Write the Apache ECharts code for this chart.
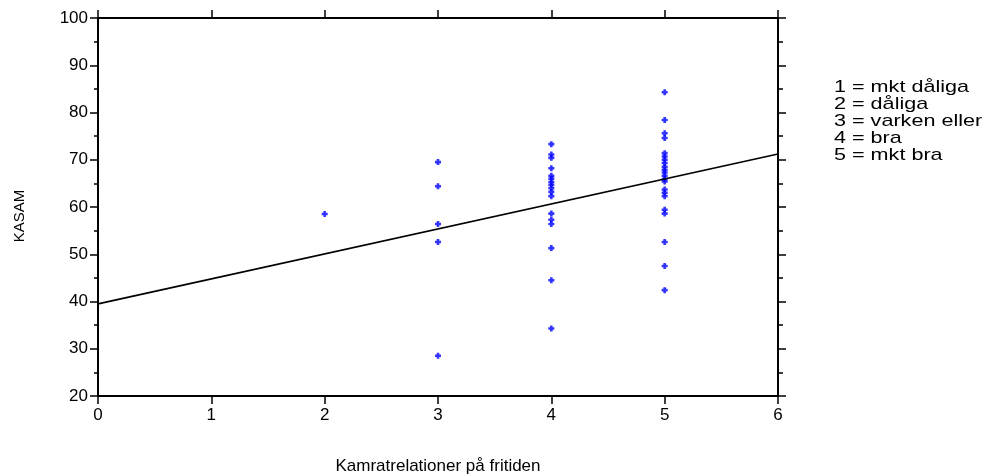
<!DOCTYPE html>
<html>
<head>
<meta charset="utf-8">
<script src="https://cdn.jsdelivr.net/npm/echarts@6/dist/echarts.min.js"></script>
<style>
  html, body { margin: 0; padding: 0; background: #fff; }
  #chart { width: 986px; height: 475px; }
</style>
</head>
<body>
<div id="chart"></div>
<script>
// KASAM scores grouped by rating of friendships in leisure time (1-5)
const ratings = [2, 3, 4, 5];
const kasamAt2 = [58.5];
const kasamAt3 = [69.5, 64.4, 56.4, 52.6, 28.5];
const kasamAt4 = [73.3, 71.1, 70.4, 68.2, 66.6, 66.0, 65.3, 64.7, 64.0, 63.2, 62.3,
                  58.6, 57.3, 56.4, 51.3, 44.5, 34.3];
const kasamAt5 = [84.3, 78.4, 75.6, 74.6, 71.4, 70.7, 70.0, 69.3, 68.5, 67.9, 67.3,
                  66.6, 65.9, 65.4, 63.7, 63.0, 62.3, 59.4, 58.6, 52.6, 47.5, 42.4];

// Least-squares line end points at x = 0 and x = 6
const fitLine = [[0, 39.5], [6, 71.2]];

// Axis ranges and tick labels
const xTicks = [0, 1, 2, 3, 4, 5, 6];
const yTicks = [20, 30, 40, 50, 60, 70, 80, 90, 100];

const legendLines = ['1 = mkt dåliga', '2 = dåliga', '3 = varken eller', '4 = bra', '5 = mkt bra'];

const groups = [kasamAt2, kasamAt3, kasamAt4, kasamAt5];
const points = [];
groups.forEach((vals, i) => vals.forEach(v => points.push([ratings[i], v])));

const FONT = 'Liberation Sans, Arial, sans-serif';
const axisLine = { show: true, onZero: false, lineStyle: { color: '#000', width: 2 } };
const tickStyle = { color: '#000', width: 1.5 };

const chart = echarts.init(document.getElementById('chart'), null, { renderer: 'canvas' });
chart.setOption({
  animation: false,
  backgroundColor: '#fff',
  grid: { left: 98, right: 208, top: 18, bottom: 79, containLabel: false, outerBoundsMode: 'none' },
  xAxis: [
    {
      type: 'value', position: 'bottom',
      min: xTicks[0], max: xTicks[xTicks.length - 1], interval: 1,
      axisLine: axisLine,
      axisTick: { show: true, inside: false, length: 8, lineStyle: tickStyle },
      axisLabel: { color: '#000', fontFamily: FONT, fontSize: 17, margin: 11 },
      splitLine: { show: false },
      name: 'Kamratrelationer på fritiden', nameLocation: 'middle', nameGap: 62,
      nameTextStyle: { color: '#000', fontFamily: FONT, fontSize: 17 }
    },
    {
      type: 'value', position: 'top',
      min: xTicks[0], max: xTicks[xTicks.length - 1], interval: 1,
      axisLine: axisLine,
      axisTick: { show: true, inside: false, length: 8, lineStyle: tickStyle },
      axisLabel: { show: false },
      splitLine: { show: false }
    }
  ],
  yAxis: [
    {
      type: 'value', position: 'left',
      min: yTicks[0], max: yTicks[yTicks.length - 1], interval: 10,
      axisLine: axisLine,
      axisTick: { show: true, inside: false, length: 8, lineStyle: tickStyle },
      minorTick: { show: true, splitNumber: 2, length: 4, lineStyle: tickStyle },
      axisLabel: { color: '#000', fontFamily: FONT, fontSize: 17, margin: 10 },
      splitLine: { show: false }
    },
    {
      type: 'value', position: 'right',
      min: yTicks[0], max: yTicks[yTicks.length - 1], interval: 10,
      axisLine: axisLine,
      axisTick: { show: true, inside: false, length: 8, lineStyle: tickStyle },
      minorTick: { show: true, splitNumber: 2, length: 5, lineStyle: tickStyle },
      axisLabel: { show: false },
      splitLine: { show: false }
    }
  ],
  graphic: [
    {
      type: 'text', x: 20, y: 216, rotation: Math.PI / 2,
      style: { text: 'KASAM', fill: '#000', font: '15px ' + FONT, align: 'center', verticalAlign: 'middle' }
    }
  ].concat(legendLines.map((t, i) => ({
    type: 'text',
    x: 834, y: 87 + i * 17,
    scaleX: 1.27,
    style: { text: t, fill: '#000', font: '17px ' + FONT, verticalAlign: 'middle', align: 'left' }
  }))),
  series: [
    {
      type: 'line', data: fitLine, xAxisIndex: 0, yAxisIndex: 0,
      symbol: 'none', silent: true,
      lineStyle: { color: '#000', width: 1.6 }
    },
    {
      type: 'scatter', data: points, xAxisIndex: 0, yAxisIndex: 0,
      symbol: 'path://M2,0H5V2H7V5H5V7H2V5H0V2H2Z', symbolSize: 6,
      itemStyle: { color: '#0000ff' }
    }
  ]
});
</script>
</body>
</html>
